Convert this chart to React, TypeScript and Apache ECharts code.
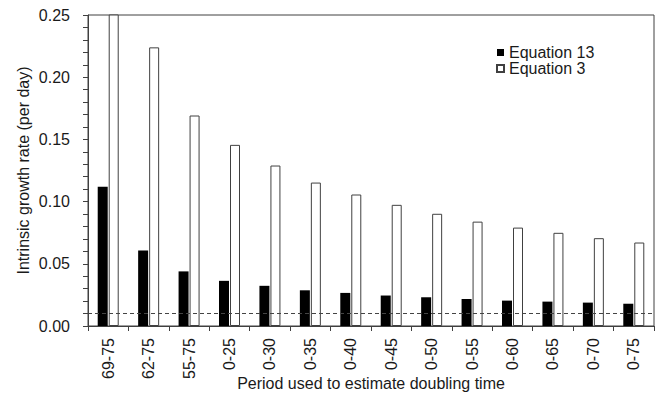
import React, { useEffect, useRef } from "react";
import * as echarts from "echarts";

const categories = ["69-75", "62-75", "55-75", "0-25", "0-30", "0-35", "0-40", "0-45", "0-50", "0-55", "0-60", "0-65", "0-70", "0-75"];
const equation13 = [0.112, 0.0607, 0.0439, 0.0363, 0.0323, 0.0287, 0.0266, 0.0245, 0.0231, 0.0217, 0.0204, 0.0196, 0.0188, 0.0179];
const equation3 = [0.4, 0.224, 0.1692, 0.1456, 0.129, 0.1153, 0.1057, 0.0974, 0.0902, 0.0839, 0.0791, 0.0749, 0.0706, 0.0671];
const thresholdRate = 0.0092;
const yTicks = { min: 0, max: 0.25, interval: 0.05 };

const FONT = "'Liberation Sans', Arial, sans-serif";
const AXIS = "#404040";
const TEXT = "#1a1a1a";

export default function App() {
  const ref = useRef<HTMLDivElement>(null);
  useEffect(() => {
    if (!ref.current) return;
    const chart = echarts.init(ref.current, null, { renderer: "svg" });
    chart.setOption({
      animation: false,
      backgroundColor: "#ffffff",
      textStyle: { fontFamily: FONT, color: TEXT },
      grid: {
        left: 88,
        top: 15,
        right: 7,
        bottom: 71,
        containLabel: false,
        outerBoundsMode: "none",
        show: true,
        borderColor: AXIS,
        borderWidth: 1,
        backgroundColor: "transparent",
      },
      legend: {
        orient: "vertical",
        left: 491,
        top: 39,
        itemWidth: 7,
        itemHeight: 7,
        itemGap: -1,
        icon: "rect",
        textStyle: { fontFamily: FONT, fontSize: 16, lineHeight: 17, color: TEXT },
        data: ["Equation 13", "Equation 3"],
      },
      xAxis: {
        type: "category",
        data: categories,
        name: "Period used to estimate doubling time",
        nameLocation: "middle",
        nameGap: 49,
        nameMoveOverlap: false,
        nameTextStyle: { fontFamily: FONT, fontSize: 16, color: TEXT },
        axisLine: { show: true, lineStyle: { color: AXIS, width: 1 } },
        axisTick: { show: true, inside: false, length: 5, alignWithLabel: false, lineStyle: { color: AXIS } },
        axisLabel: { rotate: 90, margin: 12, fontFamily: FONT, fontSize: 16, color: TEXT, interval: 0 },
        splitLine: { show: false },
      },
      yAxis: {
        type: "value",
        min: yTicks.min,
        max: yTicks.max,
        interval: yTicks.interval,
        name: "Intrinsic growth rate (per day)",
        nameLocation: "middle",
        nameGap: 57,
        nameMoveOverlap: false,
        nameTextStyle: { fontFamily: FONT, fontSize: 16, color: TEXT },
        axisLine: { show: true, lineStyle: { color: AXIS, width: 1 } },
        axisTick: { show: true, inside: false, length: 5, lineStyle: { color: AXIS } },
        minorTick: { show: true, splitNumber: 5, length: 5, lineStyle: { color: AXIS } },
        axisLabel: {
          margin: 18,
          fontFamily: FONT,
          fontSize: 16,
          color: TEXT,
          formatter: (v: number) => v.toFixed(2),
        },
        splitLine: { show: false },
        minorSplitLine: { show: false },
      },
      series: [
        {
          name: "Equation 13",
          type: "bar",
          data: equation13,
          barWidth: 10,
          barGap: "10%",
          itemStyle: { color: "#000000", borderColor: "#000000", borderWidth: 0 },
          markLine: {
            silent: true,
            symbol: ["none", "none"],
            label: { show: false },
            lineStyle: { color: "#444", type: [4, 3], width: 1 },
            data: [{ yAxis: thresholdRate }],
          },
        },
        {
          name: "Equation 3",
          type: "bar",
          data: equation3,
          barWidth: 10,
          barGap: "10%",
          itemStyle: { color: "#ffffff", borderColor: "#404040", borderWidth: 1 },
        },
      ],
    });
    return () => chart.dispose();
  }, []);
  return (
    <div
      ref={ref}
      style={{ position: "fixed", left: 0, top: 0, width: 661, height: 397, background: "#fff" }}
    />
  );
}
